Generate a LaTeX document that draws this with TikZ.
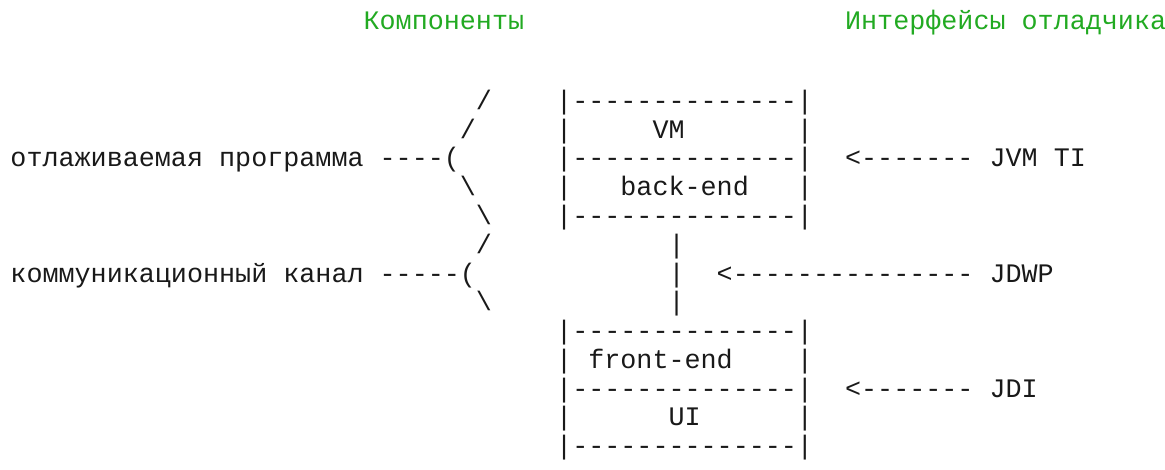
\documentclass[tikz,border=0pt]{standalone}
\usepackage{fontspec}
\setmonofont{Liberation Mono}
\definecolor{titlegreen}{RGB}{34,170,34}
\definecolor{ink}{RGB}{25,25,25}
\tikzset{
  txt/.style={anchor=base west, inner sep=0pt, outer sep=0pt, text=ink,
    font=\ttfamily\fontsize{13.375pt}{14.375pt}\selectfont},
  ttl/.style={txt, text=titlegreen}
}
\begin{document}
\begin{tikzpicture}[x=8.025pt,y=-14.375pt]
\useasboundingbox (-0.6542,-3.8087) rectangle (71.9315,12.5391);
% titles
\node[ttl] (tcomp) at (22,-2.7652) {Компоненты};
\node[ttl] (tint)  at (52,-2.7652) {Интерфейсы отладчика};
% row 0
\node[txt] (s0) at (29,0) {/};
\node[txt] (b0) at (34,0) {|--------------|};
% row 1
\node[txt] (s1) at (28,1) {/};
\node[txt] (l1) at (34,1) {|};
\node[txt] (vm) at (40,1) {VM};
\node[txt] (r1) at (49,1) {|};
% row 2
\node[txt] (prog) at (0,2) {отлаживаемая программа ----(};
\node[txt] (b2) at (34,2) {|--------------|};
\node[txt] (jvmti) at (52,2) {<------- JVM TI};
% row 3
\node[txt] (s3) at (28,3) {\textbackslash};
\node[txt] (l3) at (34,3) {|};
\node[txt] (be) at (38,3) {back-end};
\node[txt] (r3) at (49,3) {|};
% row 4
\node[txt] (s4) at (29,4) {\textbackslash};
\node[txt] (b4) at (34,4) {|--------------|};
% row 5
\node[txt] (s5) at (29,5) {/};
\node[txt] (v5) at (41,5) {|};
% row 6
\node[txt] (chan) at (0,6) {коммуникационный канал -----(};
\node[txt] (v6) at (41,6) {|};
\node[txt] (jdwp) at (44,6) {<--------------- JDWP};
% row 7
\node[txt] (s7) at (29,7) {\textbackslash};
\node[txt] (v7) at (41,7) {|};
% row 8
\node[txt] (b8) at (34,8) {|--------------|};
% row 9
\node[txt] (l9) at (34,9) {|};
\node[txt] (fe) at (36,9) {front-end};
\node[txt] (r9) at (49,9) {|};
% row 10
\node[txt] (b10) at (34,10) {|--------------|};
\node[txt] (jdi) at (52,10) {<------- JDI};
% row 11
\node[txt] (l11) at (34,11) {|};
\node[txt] (ui) at (41,11) {UI};
\node[txt] (r11) at (49,11) {|};
% row 12
\node[txt] (b12) at (34,12) {|--------------|};
\end{tikzpicture}
\end{document}
